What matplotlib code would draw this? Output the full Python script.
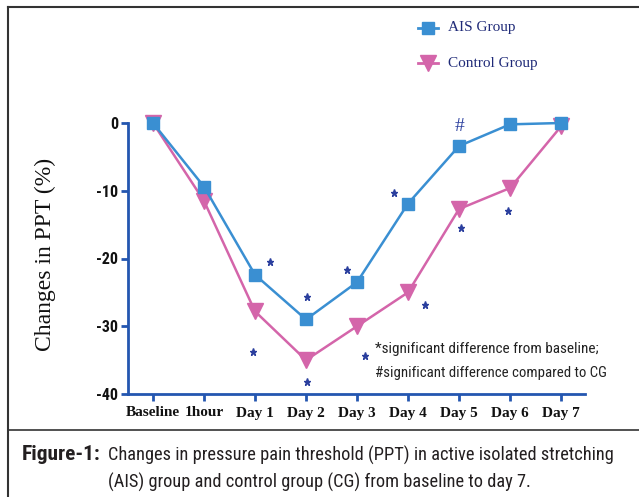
import matplotlib
matplotlib.use("Agg")
import matplotlib.pyplot as plt
from matplotlib.lines import Line2D
from matplotlib import font_manager

# ---- data ----
categories = ["Baseline", "1hour", "Day 1", "Day 2", "Day 3", "Day 4", "Day 5", "Day 6", "Day 7"]
ais_values = [0, -9.4, -22.4, -29.0, -23.5, -11.9, -3.4, -0.2, 0]
cg_values = [0, -11.5, -27.8, -35.0, -30.0, -25.0, -12.7, -9.6, -0.5]
y_ticks = [0, -10, -20, -30, -40]
star_x = [2.29, 1.96, 3.02, 3.02, 3.80, 4.16, 4.73, 5.33, 6.04, 6.96]
star_y = [-20.5, -33.8, -25.7, -38.2, -21.7, -34.4, -10.3, -26.9, -15.5, -13.0]
hash_x, hash_y = [6.0], [-0.45]

fonts = font_manager.fontManager.ttflist
names = {f.name for f in fonts}
narrow_kw = {"family": "DejaVu Sans"}
for cand in ["Liberation Sans Narrow", "Roboto Condensed", "Open Sans Condensed", "Noto Sans Condensed"]:
    if cand in names:
        narrow_kw = {"family": cand}
        break
else:
    if any(f.name == "DejaVu Sans" and f.stretch == "condensed" for f in fonts):
        narrow_kw = {"family": "DejaVu Sans", "stretch": "condensed"}
serif = "Liberation Serif"

BLUE = "#3a8fd2"
PINK = "#d465aa"
AXC = "#2456b0"
STARC = "#2b3f9e"
TXT = "#1f2a78"

fig = plt.figure(figsize=(6.39, 4.97), dpi=100)
renderer = fig.canvas.get_renderer()


def fit_text(xp, yp, s, width_px, **kw):
    t = fig.text(xp / 639, 1 - yp / 497, s, fontsize=10, va="center", **kw)
    w = t.get_window_extent(renderer=renderer).width
    t.set_fontsize(10 * width_px / w)
    return t


ax = fig.add_axes([128/639, 1-394/497, (585-128)/639, (394-123)/497])
x = list(range(len(categories)))
ax.plot(x, ais_values, color=BLUE, lw=1.8, marker="s", ms=9, clip_on=False, zorder=4)
ax.plot(x, cg_values, color=PINK, lw=1.8, marker="v", ms=12, clip_on=False, zorder=3)

ax.set_xlim(-0.49, 8.47)
ax.set_ylim(-40, 0)
ax.set_yticks(y_ticks)
ax.set_yticklabels([str(v) for v in y_ticks], fontweight="bold", fontsize=11.5, color="#111111", **narrow_kw)
ax.set_xticks(x)
ax.set_xticklabels(categories, family=serif, fontweight="bold", fontsize=11, color="#111111")
for s in ["top", "right"]:
    ax.spines[s].set_visible(False)
for s in ["left", "bottom"]:
    ax.spines[s].set_color(AXC)
    ax.spines[s].set_linewidth(2.0)
ax.tick_params(axis="both", colors=AXC, width=2.0, length=5, labelcolor="#111111")
ax.tick_params(axis="x", pad=4)
ax.tick_params(axis="y", pad=2)

fig.text(45/639, 1-254/497, "Changes in PPT (%)", family=serif, fontsize=17, color="#111111",
         rotation=90, ha="center", va="center")

ax.plot(star_x, star_y, ls="none", marker="*", ms=5.2, color=STARC, clip_on=False, zorder=5)
for hx, hy in zip(hash_x, hash_y):
    ax.text(hx, hy, "#", family=serif, fontsize=14, color=STARC, ha="center", va="center")

fit_text(375, 349, "*significant difference from baseline;", 222, color="#222222", **narrow_kw)
fit_text(375, 373, "#significant difference compared to CG", 230, color="#222222", **narrow_kw)

# legend
fig.add_artist(Line2D([418/639, 438/639], [1-28/497]*2, color=BLUE, lw=2.0, transform=fig.transFigure))
fig.add_artist(Line2D([428/639], [1-28/497], color=BLUE, marker="s", ms=9, transform=fig.transFigure))
fig.add_artist(Line2D([418/639, 438/639], [1-63/497]*2, color=PINK, lw=2.0, transform=fig.transFigure))
fig.add_artist(Line2D([428/639], [1-63/497], color=PINK, marker="v", ms=12, transform=fig.transFigure))
fig.text(448/639, 1-28/497, "AIS Group", family=serif, fontsize=11, color=TXT, va="center")
fig.text(448/639, 1-63/497, "Control Group", family=serif, fontsize=11, color=TXT, va="center")

# frame
FR = "#333333"
fig.add_artist(Line2D([8/639, 1], [1-7/497]*2, color=FR, lw=1.5, transform=fig.transFigure))
fig.add_artist(Line2D([8/639, 8/639], [0, 1-7/497], color=FR, lw=1.5, transform=fig.transFigure))
fig.add_artist(Line2D([8/639, 1], [1-430/497]*2, color=FR, lw=1.2, transform=fig.transFigure))

# caption
fit_text(22, 455, "Figure-1:", 79, fontweight="bold", color="#231f20", **narrow_kw)
fit_text(108, 455, "Changes in pressure pain threshold (PPT) in active isolated stretching", 503,
         color="#231f20", **narrow_kw)
fit_text(108, 482, "(AIS) group and control group (CG) from baseline to day 7.", 421,
         color="#231f20", **narrow_kw)

fig.savefig("out.png", dpi=100)
